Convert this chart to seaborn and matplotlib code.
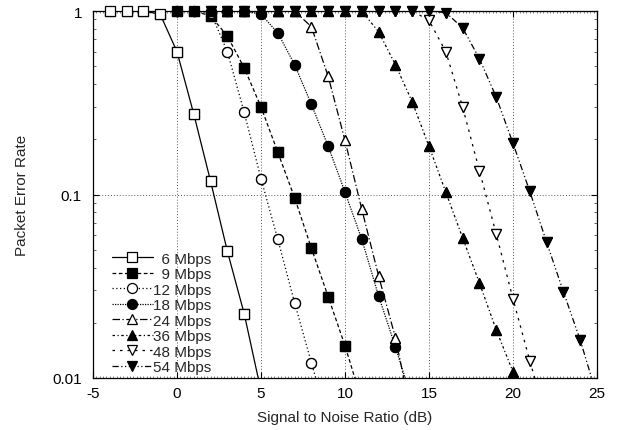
import matplotlib
matplotlib.use("Agg")
import matplotlib.pyplot as plt
import matplotlib.ticker as mticker
import seaborn as sns
import numpy as np
from matplotlib.lines import Line2D

# ---- data ----
labels = ["6 Mbps", "9 Mbps", "12 Mbps", "18 Mbps", "24 Mbps", "36 Mbps", "48 Mbps", "54 Mbps"]

x6 = [-4, -3, -2, -1, 0, 1, 2, 3, 4, 5]
y6 = [1, 1, 1, 0.96, 0.60, 0.274, 0.118, 0.049, 0.0224, 0.0085]

x9 = list(range(0, 12))
y9 = [1, 1, 0.94, 0.73, 0.49, 0.30, 0.17, 0.096, 0.051, 0.0277, 0.015, 0.0075]

x12 = list(range(0, 10))
y12 = [1, 1, 0.98, 0.60, 0.28, 0.122, 0.057, 0.0257, 0.0121, 0.0058]

x18 = list(range(0, 15))
y18 = [1, 1, 1, 1, 1, 0.96, 0.76, 0.51, 0.31, 0.183, 0.103, 0.057, 0.028, 0.0148, 0.0075]

x24 = list(range(2, 15))
y24 = [1, 1, 1, 1, 1, 1, 0.82, 0.44, 0.197, 0.083, 0.036, 0.0166, 0.006]

x36 = list(range(2, 22))
y36 = [1, 1, 1, 1, 1, 1, 1, 1, 1, 1, 0.77, 0.51, 0.32, 0.183, 0.103, 0.058, 0.033, 0.0183, 0.0108, 0.006]

x48 = list(range(2, 23))
y48 = [1, 1, 1, 1, 1, 1, 1, 1, 1, 1, 1, 1, 1, 0.89, 0.60, 0.30, 0.135, 0.061, 0.027, 0.0124, 0.006]

x54 = list(range(2, 26))
y54 = [1, 1, 1, 1, 1, 1, 1, 1, 1, 1, 1, 1, 1, 1, 0.98, 0.81, 0.55, 0.34, 0.19, 0.104, 0.055, 0.0295, 0.0161, 0.008]

xs = [x6, x9, x12, x18, x24, x36, x48, x54]
ys = [y6, y9, y12, y18, y24, y36, y48, y54]

xticks = [-5, 0, 5, 10, 15, 20, 25]
yticks = [0.01, 0.1, 1]

# ---- styles ----
markers = ["s", "s", "o", "o", "^", "^", "v", "v"]
filled = [False, True, False, True, False, True, False, True]
dashes = [
    "-",
    (0, (3, 2)),
    (0, (1, 2)),
    (0, (1, 1)),
    (0, (6, 2, 1, 2)),
    (0, (2, 2, 1, 2)),
    (0, (2, 4)),
    (0, (5, 2, 1, 2, 1, 2)),
]

sns.set_style("ticks")
plt.rcParams["font.family"] = ["Liberation Sans", "DejaVu Sans"]
plt.rcParams["axes.unicode_minus"] = False
FS = 11
MS = 7.2

fig = plt.figure(figsize=(6.2, 4.31), dpi=100)
ax = fig.add_axes([93 / 620, 1 - 379 / 431, (597 - 93) / 620, (379 - 12) / 431])

for xv, yv, lab, mk, fl, ls in zip(xs, ys, labels, markers, filled, dashes):
    fc = "black" if fl else "white"
    sns.lineplot(x=xv, y=yv, ax=ax, color="black", linestyle=ls, linewidth=0.9,
                 marker=mk, markersize=MS, markerfacecolor=fc, markeredgecolor="black",
                 markeredgewidth=0.9, label=lab, legend=False, sort=False,
                 estimator=None, zorder=3)
    # markers drawn unclipped at the upper edge (like the reference)
    xa = np.array(xv)
    ya = np.array(yv)
    keep = ya >= 0.01
    ax.plot(xa[keep], ya[keep], linestyle="none", marker=mk, markersize=MS,
            markerfacecolor=fc, markeredgecolor="black", markeredgewidth=0.9,
            clip_on=False, zorder=4)

ax.set_yscale("log")
ax.set_xlim(-5, 25)
ax.set_ylim(0.01, 1)
ax.set_xticks(xticks)
ax.set_yticks(yticks)
ax.xaxis.set_major_formatter(mticker.FuncFormatter(lambda v, p: "%g" % v))
ax.yaxis.set_major_formatter(mticker.FuncFormatter(lambda v, p: "%g" % v))
ax.yaxis.set_minor_locator(mticker.LogLocator(base=10, subs=np.arange(2, 10)))
ax.yaxis.set_minor_formatter(mticker.NullFormatter())
ax.xaxis.set_minor_locator(mticker.MultipleLocator(0.2))

ax.tick_params(axis="both", which="major", direction="in", length=4, width=0.8,
               top=True, right=True, labelsize=FS, colors="black")
ax.tick_params(axis="x", which="major", pad=6)
ax.tick_params(axis="y", which="major", pad=8)
ax.tick_params(axis="both", which="minor", direction="in", length=2, width=0.5,
               top=True, right=True)
ax.tick_params(axis="x", which="minor", length=1.5, width=0.4)

for s in ax.spines.values():
    s.set_linewidth(0.9)
    s.set_color("black")

ax.grid(True, which="major", axis="both", color="0.35", linestyle=(0, (1, 2)), linewidth=0.7)

ax.set_xlabel("Signal to Noise Ratio (dB)", fontsize=FS, labelpad=7)
ax.set_ylabel("Packet Error Rate", fontsize=FS, labelpad=17)

# legend, labels right-aligned via figure spaces
handles = []
for mk, fl, ls in zip(markers, filled, dashes):
    handles.append(Line2D([], [], color="black", linestyle=ls, linewidth=0.9, marker=mk,
                          markersize=MS, markerfacecolor="black" if fl else "white",
                          markeredgecolor="black", markeredgewidth=0.9))
leg_labels = [("\u2007" + l) if len(l.split()[0]) == 1 else l for l in labels]
leg = ax.legend(handles, leg_labels, loc="lower left", bbox_to_anchor=(0.031, 0.002),
                frameon=False, fontsize=FS, handlelength=2.7, handletextpad=0.0,
                labelspacing=0.1, borderaxespad=0.0, borderpad=0.2)

fig.savefig("out.png", dpi=100)
